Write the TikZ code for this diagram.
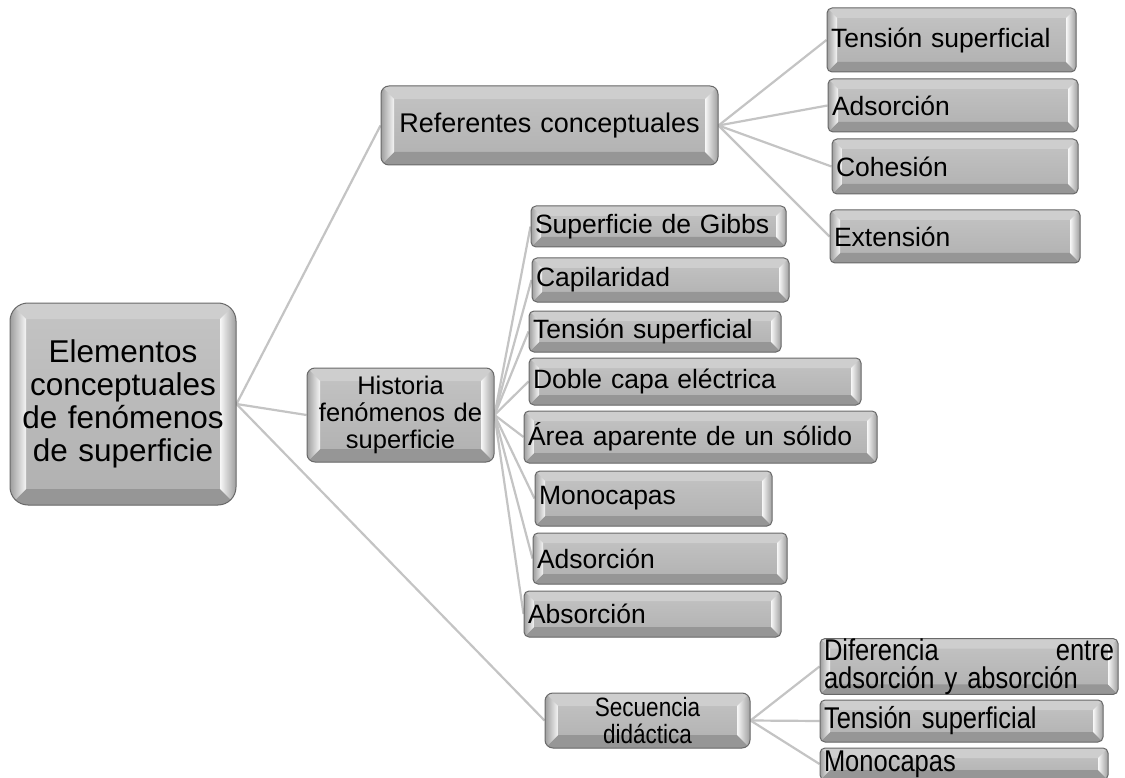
\documentclass[tikz,border=0pt]{standalone}
\usepackage{fontspec}
\setmainfont{Liberation Sans}
\newfontfamily\tallfont{Liberation Sans}[FakeStretch=0.85]
\usetikzlibrary{calc}

\pgfdeclarelayer{background}
\pgfsetlayers{background,main}

\definecolor{face}{RGB}{176,176,176}
\definecolor{facelight}{RGB}{196,196,196}
\definecolor{edge}{RGB}{105,105,105}
\definecolor{bevtop}{RGB}{206,206,206}
\definecolor{bevbot}{RGB}{150,150,150}
\definecolor{bevside}{RGB}{158,158,158}
\definecolor{wire}{RGB}{196,196,196}

% bevelled face: four trapezoids inside the node outline
\newcommand\bevelpic[1]{%
  \begin{scope}[sharp corners]
    \path (path picture bounding box.north west) coordinate (pNW)
          (path picture bounding box.north east) coordinate (pNE)
          (path picture bounding box.south west) coordinate (pSW)
          (path picture bounding box.south east) coordinate (pSE);
    \path (pNW) ++(#1,#1) coordinate (qNW)
          (pNE) ++(-#1,#1) coordinate (qNE)
          (pSW) ++(#1,-#1) coordinate (qSW)
          (pSE) ++(-#1,-#1) coordinate (qSE);
    \fill[bevtop] (pNW) -- (pNE) -- (qNE) -- (qNW) -- cycle;
    \fill[bevbot] (pSW) -- (pSE) -- (qSE) -- (qSW) -- cycle;
    \shade[left color=bevside, right color=white!92!gray]
      (pNW) -- (qNW) -- (qSW) -- (pSW) -- cycle;
    \shade[left color=white!94!gray, right color=bevside]
      (qNE) -- (pNE) -- (pSE) -- (qSE) -- cycle;
  \end{scope}}

% font sizes with tight line spacing
\newcommand\tightsize[2]{\fontsize{#1}{#2}\selectfont\lineskiplimit=-100pt\relax}
% condensed, tall lettering for the teaching-sequence branch
\newcommand\tallsize[2]{\tallfont\fontsize{#1}{#2}\selectfont\lineskiplimit=-100pt\relax}

\tikzset{
  box/.style={draw=edge, line width=1pt, top color=facelight,
    bottom color=face, inner sep=0pt, text=black},
  bevel/.style={path picture={\bevelpic{#1}}},
  rootbox/.style={box, rounded corners=18pt, bevel=16, align=center,
    font=\fontsize{31.5}{33}\selectfont},
  midbox/.style={box, rounded corners=8pt, bevel=13, align=center,
    font=\fontsize{27}{30}\selectfont},
  histbox/.style={midbox, font=\tightsize{25.5}{27}},
  secbox/.style={midbox, font=\tallsize{26.5}{27}},
  leafbox/.style={box, rounded corners=5pt, bevel=10, align=left,
    font=\fontsize{26.5}{29}\selectfont},
  tallleaf/.style={leafbox, font=\tallsize{30}{28}},
  wire/.style={draw=wire, line width=2.2pt},
}

% \bx{name}{x1}{y1}{x2}{y2}{style}{text}  -- box from its two corners
\newcommand\bx[7]{%
  \pgfmathsetmacro\bxw{#4-#2}%
  \pgfmathsetmacro\bxh{#5-#3}%
  \pgfmathsetmacro\bxtw{#4-#2-8}%
  \pgfmathsetmacro\bxcx{(#2+#4)/2}%
  \pgfmathsetmacro\bxcy{(#3+#5)/2}%
  \node[#6, minimum width=\bxw pt, minimum height=\bxh pt,
    text width=\bxtw pt] (#1) at (\bxcx,\bxcy) {#7};}

\begin{document}
\begin{tikzpicture}[x=1pt, y=-1pt]
  \useasboundingbox (0,0) rectangle (1125,778);
  \clip (0,0) rectangle (1125,778);

  % main branches
  \bx{root}{10}{303}{236}{505}{rootbox}{Elementos\\conceptuales\\de fenómenos\\de superficie}
  \bx{ref}{381}{86}{718}{165}{midbox}{Referentes conceptuales}
  \bx{hist}{307}{368}{494}{462}{histbox}{Historia\\fenómenos de\\superficie}
  \bx{sec}{545}{693}{750}{748}{secbox}{Secuencia\\didáctica}

  % conceptual referents
  \bx{r1}{827}{8}{1076}{72}{leafbox}{Tensión superficial}
  \bx{r2}{828}{79}{1078}{132}{leafbox}{Adsorción}
  \bx{r3}{832}{139}{1078}{194}{leafbox}{Cohesión}
  \bx{r4}{830}{210}{1080}{263}{leafbox}{Extensión}

  % history of surface phenomena
  \bx{h1}{531}{206}{786}{247}{leafbox}{Superficie de Gibbs}
  \bx{h2}{532}{258}{789}{302}{leafbox}{Capilaridad}
  \bx{h3}{529}{311}{781}{352}{leafbox}{Tensión superficial}
  \bx{h4}{529}{358}{861}{405}{leafbox}{Doble capa eléctrica}
  \bx{h5}{524}{411}{877}{463}{leafbox}{Área aparente de un sólido}
  \bx{h6}{535}{471}{772}{526}{leafbox}{Monocapas}
  \bx{h7}{533}{533}{787}{584}{leafbox}{Adsorción}
  \bx{h8}{524}{591}{781}{637}{leafbox}{Absorción}

  % teaching sequence
  \bx{s1}{820}{640}{1118}{693}{tallleaf}{Diferencia\hfill entre\\adsorción y absorción}
  \bx{s2}{820}{700}{1103}{742}{tallleaf}{Tensión superficial}
  \bx{s3}{820}{748}{1108}{780}{tallleaf}{Monocapas}

  \begin{pgfonlayer}{background}
    \fill[white] (0,0) rectangle (1125,778);
    \foreach \c in {ref,hist,sec} \draw[wire] (root.east) -- (\c.west);
    \foreach \c in {r1,r2,r3,r4} \draw[wire] (ref.east) -- (\c.west);
    \foreach \c in {h1,h2,h3,h4,h5,h6,h7,h8} \draw[wire] (hist.east) -- (\c.west);
    \foreach \c in {s1,s2,s3} \draw[wire] (sec.east) -- (\c.west);
  \end{pgfonlayer}
\end{tikzpicture}
\end{document}
